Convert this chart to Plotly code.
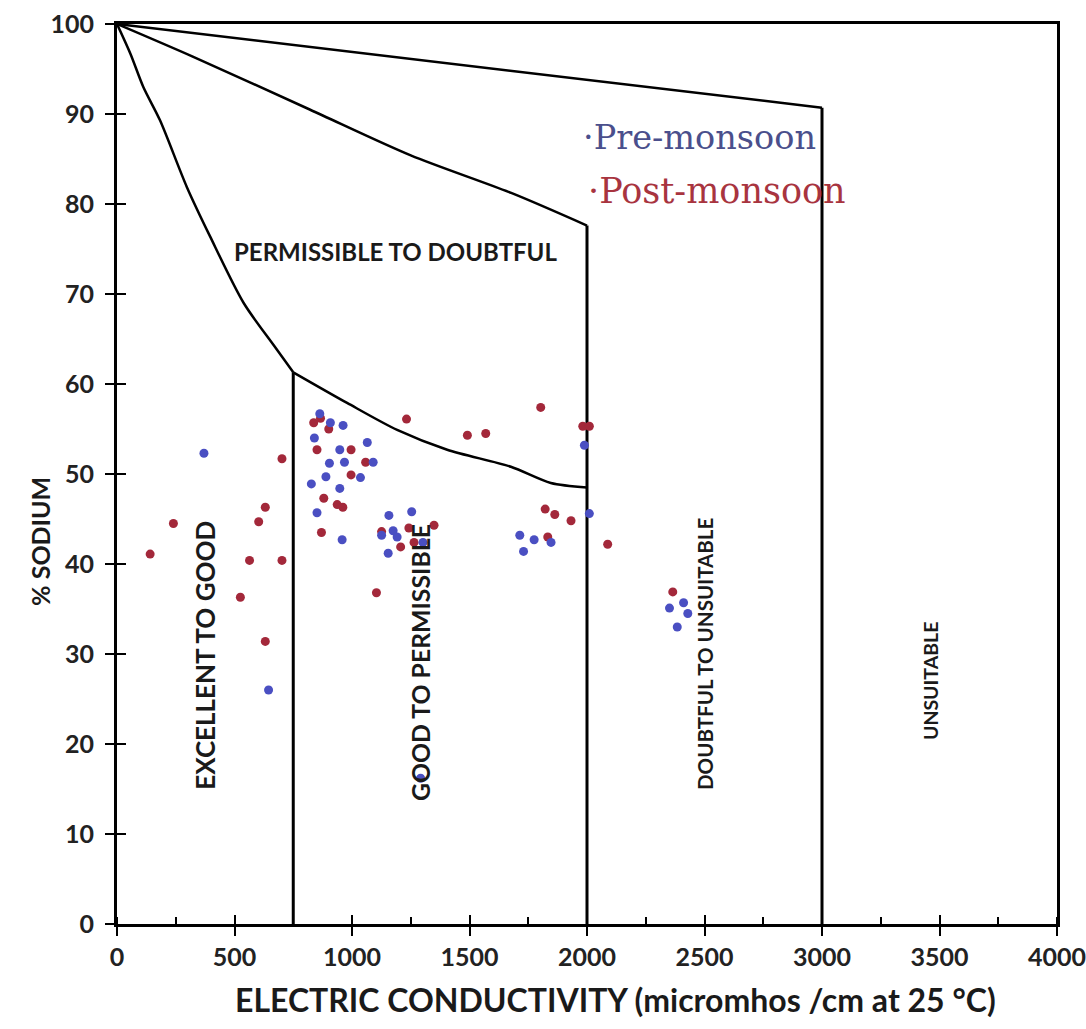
import plotly.graph_objects as go

# ---------------- data ----------------
x_ticks = [0, 500, 1000, 1500, 2000, 2500, 3000, 3500, 4000]
y_ticks = [0, 10, 20, 30, 40, 50, 60, 70, 80, 90, 100]

pre_ec = [370, 645, 863, 908, 962, 840, 1065, 948, 904, 968, 1090, 889, 1036, 827,
          948, 851, 1157, 1254, 958, 1126, 1175, 1192, 1302, 1154, 1989, 2010, 1714,
          1775, 1847, 1730, 2351, 2411, 2429, 2384, 1292]
pre_na = [52.3, 26.0, 56.7, 55.7, 55.4, 54.0, 53.5, 52.7, 51.2, 51.3, 51.3, 49.7, 49.6, 48.9,
          48.4, 45.7, 45.4, 45.8, 42.7, 43.2, 43.7, 43.0, 42.4, 41.2, 53.2, 45.6, 43.2,
          42.7, 42.4, 41.4, 35.1, 35.7, 34.5, 33.0, 16.2]

post_ec = [141, 240, 525, 564, 603, 631, 631, 702, 702, 837, 901, 851, 996, 1058, 996,
           880, 937, 961, 870, 1232, 1242, 1349, 1207, 1264, 1104, 1491, 1569, 1803,
           1982, 2010, 1822, 1863, 1932, 1833, 2088, 2365, 866, 1126]
post_na = [41.1, 44.5, 36.3, 40.4, 44.7, 46.3, 31.4, 51.7, 40.4, 55.7, 55.0, 52.7, 52.7, 51.3, 49.9,
           47.3, 46.6, 46.3, 43.5, 56.1, 44.0, 44.3, 41.9, 42.4, 36.8, 54.3, 54.5, 57.4,
           55.3, 55.3, 46.1, 45.5, 44.8, 43.0, 42.2, 36.9, 56.2, 43.6]

# class boundaries of the Wilcox diagram (curved parts)
c1_ec = [0, 3000]
c1_na = [100, 90.7]
c2_ec = [0, 320, 820, 1250, 1680, 2000]
c2_na = [100, 96.4, 90.5, 85.4, 81.2, 77.6]
c3_ec = [0, 57, 112, 183, 297, 396, 539, 667, 750]
c3_na = [100, 96.7, 93.0, 89.3, 81.9, 76.4, 69.0, 64.3, 61.3]
c4_ec = [750, 979, 1192, 1405, 1676, 1846, 2000]
c4_na = [61.3, 57.9, 54.9, 52.7, 50.8, 49.0, 48.5]
# vertical class limits (EC, top %Na)
v_ec = [750, 2000, 3000]
v_top = [61.3, 77.6, 90.7]

zone_text = ["PERMISSIBLE TO DOUBTFUL", "EXCELLENT TO GOOD", "GOOD TO PERMISSIBLE",
             "DOUBTFUL TO UNSUITABLE", "UNSUITABLE"]
zone_ec = [1187, 374, 1289, 2502, 3460]
zone_na = [74.7, 29.9, 29.1, 30.0, 27.0]

legend_text = ["Pre-monsoon", "Post-monsoon"]
legend_ec = [1974, 1996]
legend_na = [87.4, 81.4]

# ---------------- figure ----------------
fig = go.Figure()
for cx, cy in [(c1_ec, c1_na), (c2_ec, c2_na), (c3_ec, c3_na), (c4_ec, c4_na)]:
    fig.add_trace(go.Scatter(x=cx, y=cy, mode="lines",
                             line=dict(color="black", width=2.5, shape="spline", smoothing=0.8),
                             showlegend=False, hoverinfo="skip"))
for ve, vt in zip(v_ec, v_top):
    fig.add_trace(go.Scatter(x=[ve, ve], y=[vt, 0], mode="lines",
                             line=dict(color="black", width=3),
                             showlegend=False, hoverinfo="skip"))

fig.add_trace(go.Scatter(x=post_ec, y=post_na, mode="markers", name="Post-monsoon",
                         marker=dict(color="#a3283a", size=9), showlegend=False))
fig.add_trace(go.Scatter(x=pre_ec, y=pre_na, mode="markers", name="Pre-monsoon",
                         marker=dict(color="#4a4fc2", size=9), showlegend=False))

# overlay axes just for the inner half of crossing ticks
fig.add_trace(go.Scatter(x=[], y=[], xaxis="x2", yaxis="y2", showlegend=False))

tick_font = dict(family="Lato", size=25, color="#222222", weight="bold")
fig.update_layout(
    width=1086, height=1025,
    margin=dict(l=117, r=29, t=24, b=101),
    plot_bgcolor="white", paper_bgcolor="white",
    xaxis=dict(range=[0, 4000], tickvals=x_ticks, ticktext=[str(v) for v in x_ticks],
               ticks="outside", ticklen=9, tickwidth=2, tickcolor="black",
               showline=True, linewidth=3, linecolor="black", mirror=True, automargin=False,
               showgrid=False, zeroline=False, tickfont=tick_font, ticklabelstandoff=0,
               ticklabeloverflow="allow",
               minor=dict(dtick=250, tick0=0, ticks="inside", ticklen=7, tickwidth=2,
                          tickcolor="black")),
    yaxis=dict(range=[0, 100], tickvals=y_ticks, ticktext=[str(v) for v in y_ticks],
               ticks="outside", ticklen=9, tickwidth=2, tickcolor="black",
               showline=True, linewidth=3, linecolor="black", mirror=True, automargin=False,
               showgrid=False, zeroline=False, tickfont=tick_font, ticklabelstandoff=6,
               ticklabeloverflow="allow"),
    xaxis2=dict(range=[0, 4000], overlaying="x", anchor="y", side="bottom", automargin=False,
                tickvals=x_ticks, ticks="inside", ticklen=9, tickwidth=2, tickcolor="black",
                showticklabels=False, showline=False, showgrid=False, zeroline=False),
    yaxis2=dict(range=[0, 100], overlaying="y", anchor="x", side="left", automargin=False,
                tickvals=y_ticks, ticks="inside", ticklen=9, tickwidth=2, tickcolor="black",
                showticklabels=False, showline=False, showgrid=False, zeroline=False),
)

zone_sizes = [24, 26, 24.8, 20.5, 19.5]
zone_angles = [0, -90, -90, -90, -90]
for t, x, y, a, s in zip(zone_text, zone_ec, zone_na, zone_angles, zone_sizes):
    fig.add_annotation(x=x, y=y, text=t, textangle=a, showarrow=False,
                       font=dict(family="Lato", size=s, color="#1a1a1a", weight="bold"))

legend_colors = ["#4a4f8c", "#a8343f"]
legend_sizes = [33.5, 35]
for t, x, y, c, s in zip(legend_text, legend_ec, legend_na, legend_colors, legend_sizes):
    fig.add_annotation(x=x, y=y, xanchor="left", yanchor="middle",
                       text="\u00b7" + t, showarrow=False,
                       font=dict(family="DejaVu Serif", size=s, color=c))

fig.add_annotation(xref="paper", yref="paper", x=0.53, y=-0.0844,
                   xanchor="center", yanchor="middle",
                   text="ELECTRIC CONDUCTIVITY (micromhos /cm at 25 °C)", showarrow=False,
                   font=dict(family="Lato", size=32, color="#1a1a1a", weight="bold"))
fig.add_annotation(xref="paper", yref="paper", x=-0.082, y=0.4256, textangle=-90,
                   xanchor="center", yanchor="middle",
                   text="% SODIUM", showarrow=False,
                   font=dict(family="Lato", size=25, color="#1a1a1a", weight="bold"))

fig.write_html("out.html", config={"displayModeBar": False},
               post_script="document.body.style.margin='0';")
